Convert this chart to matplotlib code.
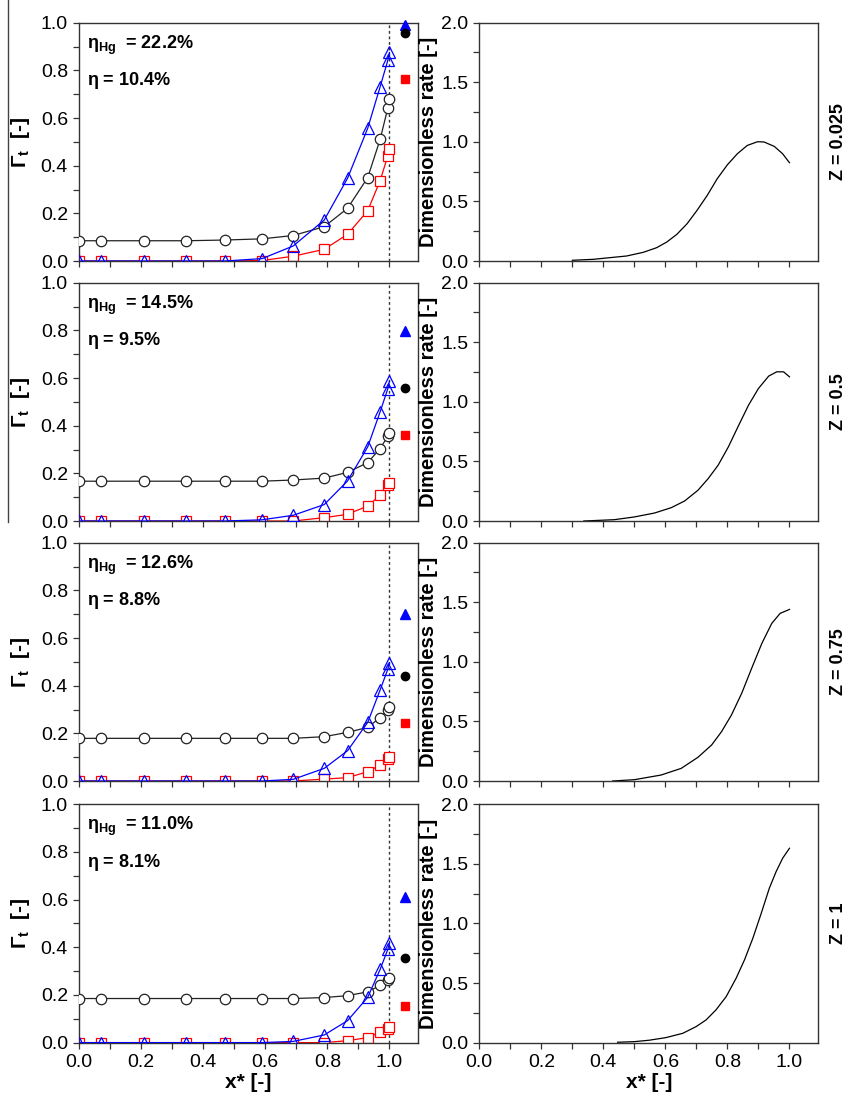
import matplotlib
matplotlib.use('Agg')
import matplotlib.pyplot as plt
from matplotlib.ticker import MultipleLocator
from matplotlib.lines import Line2D

plt.rcParams['font.family'] = ['Liberation Sans', 'DejaVu Sans']
plt.rcParams['mathtext.fontset'] = 'custom'
plt.rcParams['mathtext.rm'] = 'Liberation Sans'
plt.rcParams['mathtext.bf'] = 'Liberation Sans:bold'

# left column: x positions of the nodes
x_nodes = [0.0, 0.07, 0.21, 0.345, 0.47, 0.59, 0.69, 0.79, 0.865, 0.93, 0.97, 0.995, 1.0]

circ = [
    [0.085, 0.085, 0.085, 0.085, 0.088, 0.093, 0.107, 0.144, 0.221, 0.350, 0.510, 0.643, 0.678],
    [0.167, 0.167, 0.167, 0.167, 0.167, 0.167, 0.172, 0.180, 0.204, 0.245, 0.304, 0.356, 0.371],
    [0.179, 0.179, 0.179, 0.179, 0.179, 0.179, 0.179, 0.186, 0.204, 0.225, 0.266, 0.298, 0.312],
    [0.185, 0.185, 0.185, 0.185, 0.185, 0.185, 0.185, 0.189, 0.197, 0.213, 0.240, 0.261, 0.272],
]
tri = [
    [0.0, 0.0, 0.0, 0.0, 0.0, 0.01, 0.063, 0.172, 0.347, 0.557, 0.731, 0.843, 0.875],
    [0.0, 0.0, 0.0, 0.0, 0.0, 0.005, 0.024, 0.069, 0.168, 0.311, 0.458, 0.556, 0.587],
    [0.0, 0.0, 0.0, 0.0, 0.0, 0.0, 0.007, 0.053, 0.127, 0.246, 0.382, 0.470, 0.497],
    [0.0, 0.0, 0.0, 0.0, 0.0, 0.0, 0.005, 0.032, 0.092, 0.190, 0.307, 0.392, 0.417],
]
sq = [
    [0.0, 0.0, 0.0, 0.0, 0.0, 0.002, 0.020, 0.049, 0.112, 0.211, 0.337, 0.442, 0.470],
    [0.0, 0.0, 0.0, 0.0, 0.0, 0.0, 0.0, 0.014, 0.028, 0.063, 0.108, 0.150, 0.161],
    [0.0, 0.0, 0.0, 0.0, 0.0, 0.0, 0.0, 0.008, 0.014, 0.039, 0.067, 0.091, 0.102],
    [0.0, 0.0, 0.0, 0.0, 0.0, 0.0, 0.0, 0.0, 0.008, 0.021, 0.044, 0.058, 0.065],
]
# filled symbols at x = 1.05
x_filled = 1.05
tri_filled = [0.99, 0.798, 0.70, 0.61]
circ_filled = [0.958, 0.56, 0.442, 0.356]
sq_filled = [0.765, 0.361, 0.242, 0.155]

eta_hg = ['22.2%', '14.5%', '12.6%', '11.0%']
eta = ['10.4%', '9.5%', '8.8%', '8.1%']
z_labels = ['Z = 0.025', 'Z = 0.5', 'Z = 0.75', 'Z = 1']

# right column: dimensionless rate curves
rate_x = [
    [0.30, 0.367, 0.421, 0.475, 0.529, 0.572, 0.605, 0.637, 0.67, 0.702, 0.735, 0.767,
     0.80, 0.832, 0.864, 0.897, 0.918, 0.951, 0.978, 1.0],
    [0.337, 0.435, 0.50, 0.565, 0.619, 0.662, 0.705, 0.738, 0.77, 0.803, 0.835, 0.868,
     0.90, 0.933, 0.959, 0.981, 1.0],
    [0.43, 0.50, 0.586, 0.651, 0.705, 0.749, 0.781, 0.813, 0.846, 0.878, 0.911, 0.943,
     0.97, 1.0],
    [0.446, 0.50, 0.548, 0.602, 0.656, 0.699, 0.731, 0.763, 0.796, 0.828, 0.855, 0.882,
     0.909, 0.935, 0.957, 0.978, 1.0],
]
rate_y = [
    [0.006, 0.014, 0.028, 0.042, 0.073, 0.112, 0.16, 0.224, 0.313, 0.425, 0.551, 0.69,
     0.808, 0.90, 0.97, 1.001, 0.999, 0.962, 0.90, 0.825],
    [0.0, 0.011, 0.034, 0.067, 0.112, 0.168, 0.258, 0.356, 0.468, 0.622, 0.796, 0.972,
     1.112, 1.216, 1.252, 1.252, 1.21],
    [0.0, 0.011, 0.05, 0.106, 0.199, 0.302, 0.414, 0.554, 0.736, 0.945, 1.155, 1.323,
     1.407, 1.44],
    [0.003, 0.008, 0.02, 0.042, 0.078, 0.134, 0.19, 0.274, 0.386, 0.54, 0.694, 0.876,
     1.085, 1.295, 1.435, 1.547, 1.631],
]

W, H = 847, 1093
fig = plt.figure(figsize=(W / 100, H / 100), dpi=100)

tops = [22.7, 282.7, 542.7, 804.3]
ax_h = 238.3
lx0, lx1 = 79, 418.3
rx0, rx1 = 479.3, 818.3
x_max = 1.093


def style(ax, bottom):
    for s in ax.spines.values():
        s.set_color('#333333')
        s.set_linewidth(1.0)
    ax.tick_params(which='both', direction='out', top=False, right=False,
                   labelsize=14, color='#333333')
    ax.tick_params(which='major', length=4.5, width=0.9)
    ax.tick_params(which='minor', length=4.5, width=0.9)
    ax.set_xlim(0, x_max)
    ax.xaxis.set_major_locator(MultipleLocator(0.2))
    ax.xaxis.set_minor_locator(MultipleLocator(0.1))
    if not bottom:
        ax.tick_params(labelbottom=False)
    else:
        ax.set_xlabel('x* [-]', fontsize=15, fontweight='bold', labelpad=2)


for i in range(4):
    b = 1 - (tops[i] + ax_h) / H
    h = ax_h / H
    bottom = i == 3

    # left panel
    ax = fig.add_axes([lx0 / W, b, (lx1 - lx0) / W, h])
    style(ax, bottom)
    ax.set_ylim(0, 1.0)
    ax.yaxis.set_major_locator(MultipleLocator(0.2))
    ax.yaxis.set_minor_locator(MultipleLocator(0.1))
    ax.axvline(1.0, color='#333333', ls=(0, (2, 2)), lw=1.0, zorder=1)
    ax.plot(x_nodes, sq[i], color='red', lw=0.9, marker='s', ms=6.5,
            mfc='white', mec='red', mew=0.9, zorder=2)
    ax.plot(x_nodes, circ[i], color='#222222', lw=0.9, marker='o', ms=7.5,
            mfc='white', mec='#222222', mew=0.9, zorder=3)
    ax.plot(x_nodes, tri[i], color='blue', lw=0.9, marker='^', ms=8.5,
            mfc='none', mec='blue', mew=0.9, zorder=4)
    ax.plot([x_filled], [tri_filled[i]], marker='^', ms=7, color='blue',
            ls='none', clip_on=False, zorder=5)
    ax.plot([x_filled], [circ_filled[i]], marker='o', ms=6, color='black',
            ls='none', clip_on=False, zorder=5)
    ax.plot([x_filled], [sq_filled[i]], marker='s', ms=5.5, color='red',
            ls='none', clip_on=False, zorder=5)
    ax.text(0.025, 0.955, r'$\mathbf{\eta_{Hg}}$  = ' + eta_hg[i],
            transform=ax.transAxes, fontsize=13, fontweight='bold',
            va='top', ha='left')
    ax.text(0.025, 0.80, r'$\mathbf{\eta}$ = ' + eta[i],
            transform=ax.transAxes, fontsize=13, fontweight='bold',
            va='top', ha='left')
    ax.set_ylabel(r'$\mathbf{\Gamma_{t}}$  [-]', fontsize=15, fontweight='bold',
                  labelpad=6)

    # right panel
    ax2 = fig.add_axes([rx0 / W, b, (rx1 - rx0) / W, h])
    style(ax2, bottom)
    ax2.set_ylim(0, 2.0)
    ax2.yaxis.set_major_locator(MultipleLocator(0.5))
    ax2.yaxis.set_minor_locator(MultipleLocator(0.25))
    ax2.plot(rate_x[i], rate_y[i], color='black', lw=0.9)
    ax2.set_ylabel('Dimensionless rate [-]', fontsize=14.5, fontweight='bold',
                   labelpad=2)
    fig.text(838 / W, b + h / 2, z_labels[i], rotation=90, fontsize=13,
             fontweight='bold', ha='center', va='center')

# thin vertical line on the left edge of the original page
fig.add_artist(Line2D([8 / W, 8 / W], [1.0, 1 - 522 / H], color='#444444', lw=1.0))

plt.savefig('out.png', dpi=100)
